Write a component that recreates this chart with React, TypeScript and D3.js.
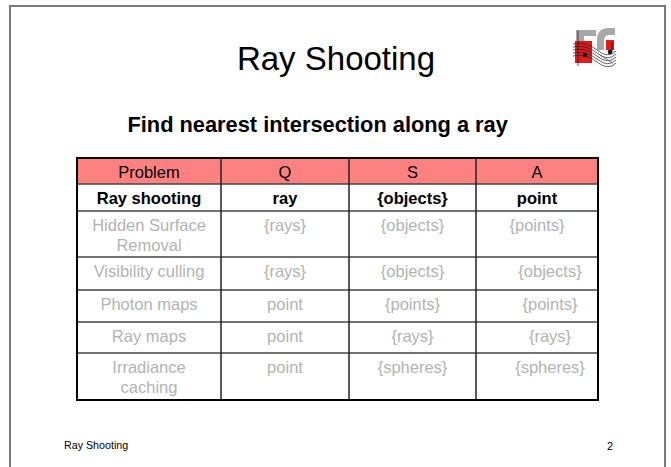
import React from "react";
import * as d3 from "d3";

// ---------- data ----------
const slideTitle = "Ray Shooting";
const subtitle = "Find nearest intersection along a ray";
const columns = ["Problem", "Q", "S", "A"];
const problems = [
  "Ray shooting",
  "Hidden Surface\nRemoval",
  "Visibility culling",
  "Photon maps",
  "Ray maps",
  "Irradiance\ncaching",
];
const qValues = ["ray", "{rays}", "{rays}", "point", "point", "point"];
const sValues = ["{objects}", "{objects}", "{objects}", "{points}", "{rays}", "{spheres}"];
const aValues = ["point", "{points}", "{objects}", "{points}", "{rays}", "{spheres}"];
const footerLeft = "Ray Shooting";
const pageNumber = "2";

// ---------- layout ----------
const W = 671;
const H = 467;
const FONT = "'Liberation Sans', Arial, Helvetica, sans-serif";
const colEdges = [77, 221, 349, 476, 598];
const rowEdges = [158, 184, 211, 257, 290, 322, 353, 400];
const aShift = [0, 0, 13, 13, 13, 13]; // indentation of later A-column cells

export default function App() {
  const xCol = d3.scaleOrdinal<number, number>().domain(d3.range(4)).range(colEdges.slice(0, 4));
  const xColEnd = d3.scaleOrdinal<number, number>().domain(d3.range(4)).range(colEdges.slice(1));
  const yRow = d3.scaleOrdinal<number, number>().domain(d3.range(7)).range(rowEdges.slice(0, 7));
  const yRowEnd = d3.scaleOrdinal<number, number>().domain(d3.range(7)).range(rowEdges.slice(1));

  const body = problems.map((p, i) => [p, qValues[i], sValues[i], aValues[i]]);
  const cx = (c: number) => (xCol(c) + xColEnd(c)) / 2;

  const tLeft = colEdges[0];
  const tRight = colEdges[colEdges.length - 1];
  const tTop = rowEdges[0];
  const tBottom = rowEdges[rowEdges.length - 1];

  return (
    <svg
      width={W}
      height={H}
      viewBox={`0 0 ${W} ${H}`}
      style={{ position: "absolute", left: 0, top: 0, background: "#fff" }}
    >
      <rect x={0} y={0} width={W} height={H} fill="#fff" />
      {/* page frame */}
      <path d={`M10,${H + 5} L10,6 L665,6 L665,${H + 5}`} fill="none" stroke="#7a7a7a" strokeWidth={2} />

      {/* logo */}
      <g>
        <path d="M576,30 L596,30 L596,36 L584,36 L584,58 L576,58 Z" fill="#a8a8a8" />
        <path d="M597,40 Q597,28 609,28 L615,28 L615,35 L609,35 Q604,35 604,41 L604,50 L597,50 Z" fill="#a8a8a8" />
        <path d="M575,41 L592,41 L592,63 L575,63 Z" fill="#e41a1a" />
        <rect x={606} y={40} width={8} height={10} fill="#e41a1a" />
        {[0, 1, 2, 3, 4].map((k) => (
          <path
            key={k}
            d={`M573,${44 + k * 3} Q586,${41 + k * 3} 597,${50 + k * 3} T616,${51 + k * 3}`}
            fill="none"
            stroke="#222"
            strokeWidth={0.7}
          />
        ))}
        <line x1={578} y1={31} x2={578} y2={66} stroke="#222" strokeWidth={0.8} />
        <line x1={600} y1={55} x2={613} y2={63} stroke="#555" strokeWidth={0.8} />
        <circle cx={585} cy={55} r={2.3} fill="#111" />
        <circle cx={610} cy={52} r={2.3} fill="#111" />
        <line x1={612} y1={42} x2={612} y2={52} stroke="#111" strokeWidth={0.8} />
      </g>

      {/* title */}
      <text x={336} y={70} textAnchor="middle" fontFamily={FONT} fontSize={33} fill="#000">
        {slideTitle}
      </text>
      <text x={127.5} y={131.5} fontFamily={FONT} fontSize={21.8} fontWeight="bold" fill="#000">
        {subtitle}
      </text>

      {/* header fill */}
      <rect
        x={tLeft}
        y={yRow(0)}
        width={tRight - tLeft}
        height={yRowEnd(0) - yRow(0)}
        fill="#ff8080"
      />

      {/* inner horizontal lines */}
      {d3.range(1, 7).map((r) => (
        <line
          key={`h${r}`}
          x1={tLeft}
          x2={tRight}
          y1={yRow(r)}
          y2={yRow(r)}
          stroke="#444"
          strokeWidth={1.5}
        />
      ))}
      {/* inner vertical lines */}
      {d3.range(1, 4).map((c) => (
        <line
          key={`v${c}`}
          x1={xCol(c)}
          x2={xCol(c)}
          y1={tTop}
          y2={tBottom}
          stroke="#222"
          strokeWidth={1.5}
        />
      ))}
      {/* outer border */}
      <rect
        x={tLeft}
        y={tTop}
        width={tRight - tLeft}
        height={tBottom - tTop}
        fill="none"
        stroke="#000"
        strokeWidth={2}
      />

      {/* header texts */}
      {columns.map((c, i) => (
        <text
          key={`hd${i}`}
          x={cx(i)}
          y={yRow(0) + 19.5}
          textAnchor="middle"
          fontFamily={FONT}
          fontSize={16.5}
          fill="#000"
        >
          {c}
        </text>
      ))}

      {/* body texts */}
      {body.map((row, r) =>
        row.map((cell, c) => {
          const lines = cell.split("\n");
          const first = r === 0;
          const x = cx(c) + (c === 3 ? aShift[r] : 0);
          return (
            <text
              key={`c${r}-${c}`}
              x={x}
              y={yRow(r + 1) + 20}
              textAnchor="middle"
              fontFamily={FONT}
              fontSize={16.5}
              fontWeight={first ? "bold" : "normal"}
              fill={first ? "#000" : "#b3b3b3"}
            >
              {lines.map((ln, k) => (
                <tspan key={k} x={x} dy={k === 0 ? 0 : 20}>
                  {ln}
                </tspan>
              ))}
            </text>
          );
        })
      )}

      {/* footer */}
      <text x={64} y={449} fontFamily={FONT} fontSize={10.7} fill="#000">
        {footerLeft}
      </text>
      <text x={607} y={450} fontFamily={FONT} fontSize={11} fill="#000">
        {pageNumber}
      </text>
    </svg>
  );
}
